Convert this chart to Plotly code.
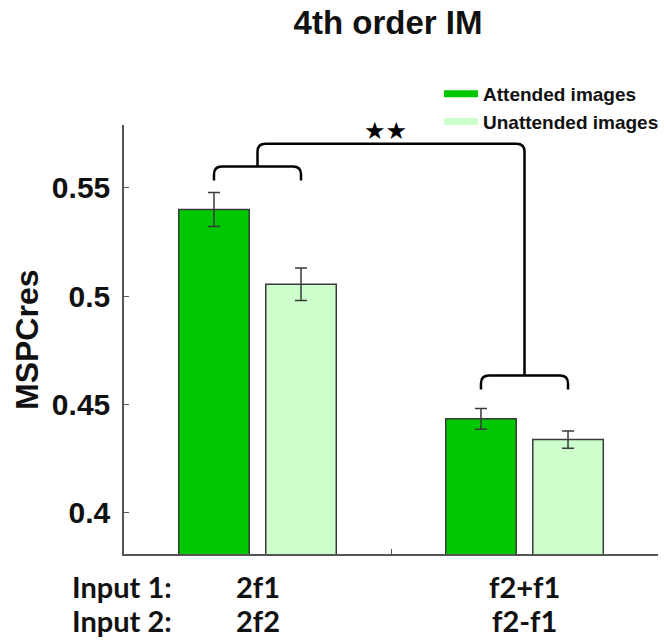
import plotly.graph_objects as go

# ---- data ----
groups = [1, 2]
input1_labels = ["2f1", "f2+f1"]
input2_labels = ["2f2", "f2-f1"]
attended = [0.540, 0.4434]
attended_err = [0.0078, 0.0048]
unattended = [0.5055, 0.4338]
unattended_err = [0.0075, 0.0040]
series_names = ["Attended images", "Unattended images"]
y_ticks = [0.40, 0.45, 0.50, 0.55]
y_tick_labels = ["0.4", "0.45", "0.5", "0.55"]

col_att = "#00C800"
col_un = "#CCFFCC"
edge = "#3a3a3a"

W, H = 664, 640
ML, MR, MT, MB = 124, 6, 125, 86
pw = W - ML - MR
ph = H - MT - MB

fig = go.Figure()
for vals, errs, col, nm in [(attended, attended_err, col_att, series_names[0]),
                            (unattended, unattended_err, col_un, series_names[1])]:
    fig.add_trace(go.Bar(
        x=groups, y=vals, name=nm, showlegend=False,
        marker=dict(color=col, line=dict(color=edge, width=1.5)),
        error_y=dict(type="data", array=errs, color=edge, thickness=1.5, width=6),
    ))
# legend entries as thick lines
for col, nm in [(col_att, series_names[0]), (col_un, series_names[1])]:
    fig.add_trace(go.Scatter(x=[None], y=[None], mode="lines", name=nm,
                             line=dict(color=col, width=7)))

def bracket(xl, xr, ytip_l, ytip_r, ybar, rx=0.03, ry=0.0037):
    return (f"M {xl},{ytip_l} L {xl},{ybar-ry} Q {xl},{ybar} {xl+rx},{ybar} "
            f"L {xr-rx},{ybar} Q {xr},{ybar} {xr},{ybar-ry} L {xr},{ytip_r}")

off = 0.163
small1 = (0.5534, 0.5598)
small2 = (0.4569, 0.4634)
big_y = 0.5703
shapes = [
    dict(type="path", xref="x", yref="y",
         path=bracket(groups[0]-off, groups[0]+off, small1[0], small1[0], small1[1]),
         line=dict(color="black", width=2.5)),
    dict(type="path", xref="x", yref="y",
         path=bracket(groups[1]-off, groups[1]+off, small2[0], small2[0], small2[1]),
         line=dict(color="black", width=2.5)),
    dict(type="path", xref="x", yref="y",
         path=bracket(groups[0], groups[1], small1[1], small2[1], big_y),
         line=dict(color="black", width=2.5)),
]

bold_arial = dict(family="Liberation Sans, Arial", color="#111111", weight="bold")
cal = dict(family="Lato", color="#111111", weight="bold", size=29)

annotations = [
    dict(text="★★", x=(groups[0]+groups[1])/2 - 0.02, y=0.5762, xref="x", yref="y",
         showarrow=False, font=dict(size=24, color="black", family="DejaVu Sans"),
         xanchor="center", yanchor="middle"),
    dict(text="MSPCres", x=(27-ML)/pw, y=(H-MB-340)/ph, xref="paper", yref="paper",
         textangle=-90, showarrow=False, font=dict(size=32, **bold_arial),
         xanchor="center", yanchor="middle"),
    dict(text="Input 1:", x=(70-ML)/pw, y=(H-MB-586)/ph, xref="paper", yref="paper",
         showarrow=False, font=cal, xanchor="left", yanchor="middle"),
    dict(text="Input 2:", x=(70-ML)/pw, y=(H-MB-620)/ph, xref="paper", yref="paper",
         showarrow=False, font=cal, xanchor="left", yanchor="middle"),
]
for g, a, b in zip(groups, input1_labels, input2_labels):
    annotations.append(dict(text=a, x=g, y=(H-MB-586)/ph, xref="x", yref="paper",
                            showarrow=False, font=cal, xanchor="center", yanchor="middle"))
    annotations.append(dict(text=b, x=g, y=(H-MB-620)/ph, xref="x", yref="paper",
                            showarrow=False, font=cal, xanchor="center", yanchor="middle"))

fig.update_layout(
    width=W, height=H,
    margin=dict(l=ML, r=MR, t=MT, b=MB, autoexpand=False),
    paper_bgcolor="white", plot_bgcolor="white",
    barmode="group", bargap=0.348, bargroupgap=0.19,
    title=dict(text="4th order IM", x=388/W, xanchor="center", y=1-22/H, yanchor="middle",
               font=dict(size=33, **bold_arial)),
    xaxis=dict(range=[0.5, 2.5], tickvals=[1.5], ticktext=[""], ticks="inside", ticklen=5,
               tickcolor="#555555", showline=True, linecolor="#555555", linewidth=1.5,
               showgrid=False, zeroline=False, fixedrange=True),
    yaxis=dict(range=[0.381, 0.579], tickvals=y_ticks, ticktext=y_tick_labels,
               ticks="inside", ticklen=5, tickcolor="#555555", showline=True,
               linecolor="#555555", linewidth=1.5, showgrid=False, zeroline=False,
               tickfont=dict(size=30, **bold_arial), ticklabelstandoff=6),
    legend=dict(x=(439-ML)/pw, y=1+(MT-75)/ph, xanchor="left", yanchor="top",
                font=dict(size=19, **bold_arial), bgcolor="rgba(0,0,0,0)",
                itemclick=False, itemwidth=34),
    shapes=shapes, annotations=annotations,
)

fig.write_html("out.html", config={"displayModeBar": False},
               post_script="document.body.style.margin='0';document.body.style.padding='0';")
